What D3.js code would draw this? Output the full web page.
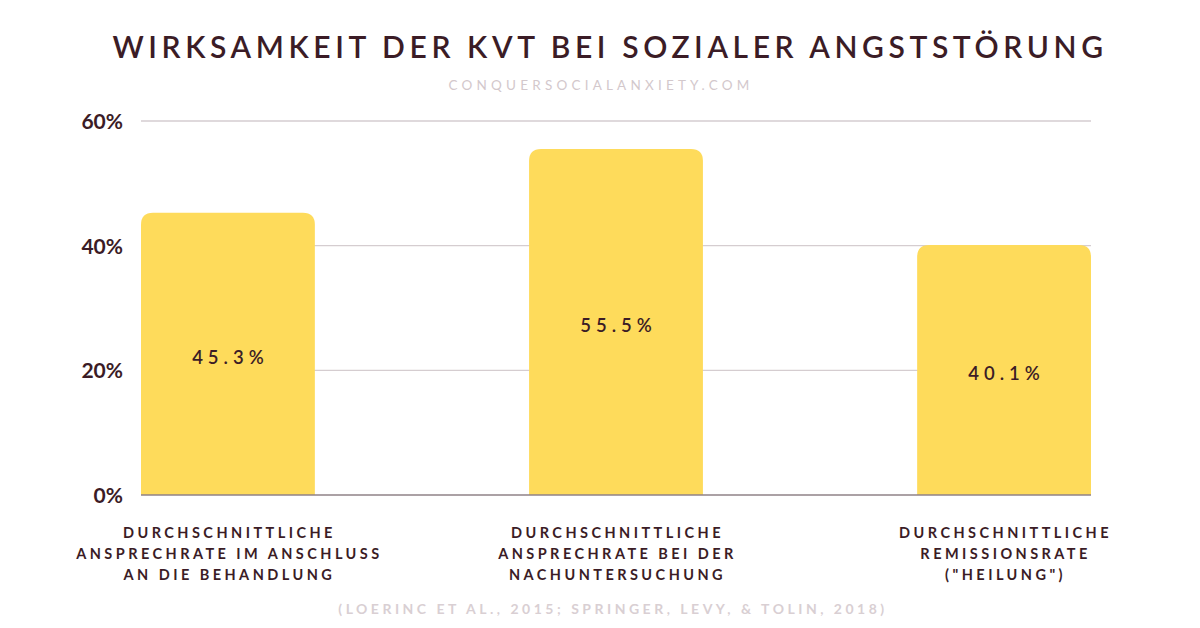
<!DOCTYPE html>
<html><head><meta charset="utf-8">
<script src="https://cdn.jsdelivr.net/npm/d3@7"></script>
<style>
html,body{margin:0;padding:0;background:#fff;}
svg{display:block;}
text{font-family:Lato,"Open Sans",sans-serif;}
</style></head>
<body>
<svg id="chart" width="1200" height="628"></svg>
<script>
const title = "WIRKSAMKEIT DER KVT BEI SOZIALER ANGSTSTÖRUNG";
const subtitle = "CONQUERSOCIALANXIETY.COM";
const footnote = "(LOERINC ET AL., 2015; SPRINGER, LEVY, & TOLIN, 2018)";
const categories = [
  ["DURCHSCHNITTLICHE","ANSPRECHRATE IM ANSCHLUSS","AN DIE BEHANDLUNG"],
  ["DURCHSCHNITTLICHE","ANSPRECHRATE BEI DER","NACHUNTERSUCHUNG"],
  ["DURCHSCHNITTLICHE","REMISSIONSRATE","(\"HEILUNG\")"]
];
const values = [45.3, 55.5, 40.1];
const yTicks = [0, 20, 40, 60];

const dark = "#3b1c26";
const svg = d3.select("#chart");
const margin = {left:141, right:109, top:121, bottom:133};
const W = 1200, H = 628;

const x = d3.scaleBand().domain(d3.range(values.length))
  .range([margin.left, W - margin.right]).paddingInner(0.552).paddingOuter(0);
const y = d3.scaleLinear().domain([0, 60]).range([H - margin.bottom, margin.top]);

// title
svg.append("text").attr("x", 610).attr("y", 58).attr("text-anchor","middle")
  .style("font-size","30px").style("font-weight","600").style("letter-spacing","4.6px")
  .attr("fill", dark).text(title);
svg.append("text").attr("x", 601).attr("y", 90).attr("text-anchor","middle")
  .style("font-size","13.5px").style("font-weight","400").style("letter-spacing","4.2px")
  .attr("fill", "#d3c8cc").text(subtitle);

// gridlines
const grid = svg.append("g");
grid.selectAll("line").data(yTicks.filter(d => d > 0)).join("line")
  .attr("x1", margin.left).attr("x2", W - margin.right)
  .attr("y1", d => y(d)).attr("y2", d => y(d))
  .attr("stroke", "#d5cdd0").attr("stroke-width", 1.3);

// y axis labels
const yAxis = d3.axisLeft(y).tickValues(yTicks).tickSize(0).tickPadding(18).tickFormat(d => d + "%");
const gy = svg.append("g").attr("transform", `translate(${margin.left},0)`).call(yAxis);
gy.select(".domain").remove();
gy.selectAll("text").attr("fill", dark).style("font-size","21px").style("font-weight","700")
  .style("font-family","Lato, sans-serif").attr("dy","0.35em");

// bars with rounded top corners
const r = 12;
function barPath(x0, w, yTop, yBot){
  return `M${x0},${yBot} L${x0},${yTop + r} Q${x0},${yTop} ${x0 + r},${yTop} L${x0 + w - r},${yTop} Q${x0 + w},${yTop} ${x0 + w},${yTop + r} L${x0 + w},${yBot} Z`;
}
svg.append("g").selectAll("path").data(values).join("path")
  .attr("d", (d, i) => barPath(x(i), x.bandwidth(), y(d), y(0)))
  .attr("fill", "#fedb5b");

// baseline
svg.append("line").attr("x1", margin.left).attr("x2", W - margin.right)
  .attr("y1", y(0)).attr("y2", y(0)).attr("stroke", "#8f8287").attr("stroke-width", 1.5);

// value labels
svg.append("g").selectAll("text").data(values).join("text")
  .attr("x", (d, i) => x(i) + x.bandwidth() / 2 + 2.5)
  .attr("y", d => (y(d) + y(0)) / 2 + 10)
  .attr("text-anchor", "middle")
  .style("font-size","18.5px").style("font-weight","600").style("letter-spacing","5px")
  .attr("fill", dark).text(d => d.toFixed(1) + "%");

// category labels
const cg = svg.append("g");
categories.forEach((lines, i) => {
  const t = cg.append("text").attr("text-anchor","middle")
    .style("font-size","14.5px").style("font-weight","700").style("letter-spacing","3.45px")
    .attr("fill", dark);
  lines.forEach((ln, j) => {
    t.append("tspan").attr("x", x(i) + x.bandwidth() / 2 + 1.5).attr("y", 538 + j * 21).text(ln);
  });
});

// footnote
svg.append("text").attr("x", 613).attr("y", 614).attr("text-anchor","middle")
  .style("font-size","14px").style("font-weight","700").style("letter-spacing","3.5px")
  .attr("fill", "#d9cfd3").text(footnote);
</script>
</body></html>
